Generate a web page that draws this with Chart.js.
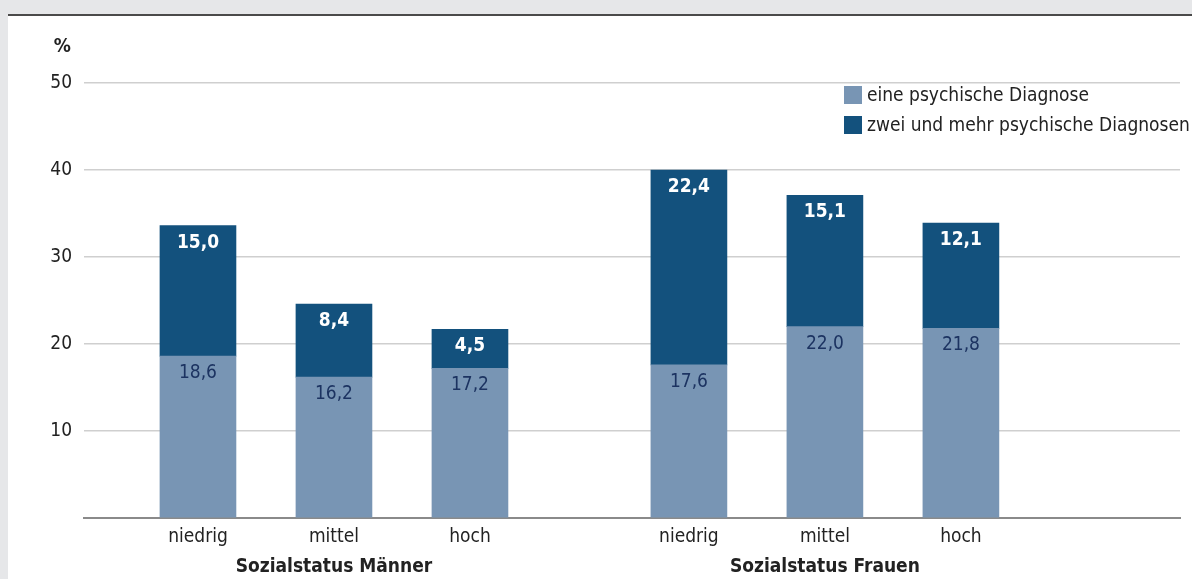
<!DOCTYPE html>
<html>
<head>
<meta charset="utf-8">
<script src="https://cdn.jsdelivr.net/npm/chart.js@4.4.1/dist/chart.umd.min.js"></script>
<style>
  html, body { margin: 0; padding: 0; background: #e6e7e9; width: 1192px; height: 579px; overflow: hidden; }
  #panel { position: absolute; left: 8px; top: 14px; width: 1184px; height: 565px; background: #ffffff; border-top: 2px solid #4a4a4a; box-sizing: border-box; }
  #c { position: absolute; left: 0; top: 0; }
</style>
</head>
<body>
<div id="panel"></div>
<canvas id="c" width="1192" height="579"></canvas>
<script>
// ---- data ----
const categories = ['niedrig', 'mittel', 'hoch'];
const groups = ['Sozialstatus Männer', 'Sozialstatus Frauen'];
const seriesLabels = ['eine psychische Diagnose', 'zwei und mehr psychische Diagnosen'];
const eineDiagnose = [18.6, 16.2, 17.2, 17.6, 22.0, 21.8];
const zweiUndMehr = [15.0, 8.4, 4.5, 22.4, 15.1, 12.1];
const yTickValues = [10, 20, 30, 40, 50];

// ---- layout helpers ----
const GROUP_GAP = 0.61;
const FONT = "'DejaVu Sans Condensed', 'Liberation Sans Narrow', 'DejaVu Sans', sans-serif";
const FS = 19;
const positionOf = i => 1 + (i % categories.length) + Math.floor(i / categories.length) * (categories.length + GROUP_GAP);
const positions = eineDiagnose.map((_, i) => positionOf(i));
const toPoints = vals => vals.map((v, i) => ({ x: positions[i], y: v }));
const fmt = v => v.toFixed(1).replace('.', ',');

const colors = ['#7895b4', '#13517d'];

const overlay = {
  id: 'overlay',
  afterDatasetsDraw(chart) {
    const ctx = chart.ctx;
    ctx.save();
    ctx.textAlign = 'center';
    ctx.textBaseline = 'middle';
    chart.data.datasets.forEach((ds, di) => {
      const meta = chart.getDatasetMeta(di);
      meta.data.forEach((el, i) => {
        const v = ds.data[i].y;
        ctx.font = (di === 1 ? 'bold ' : '') + FS + 'px ' + FONT;
        ctx.fillStyle = di === 1 ? '#ffffff' : '#1c3361';
        ctx.fillText(fmt(v), el.x, el.y + 17);
      });
    });
    ctx.restore();
  },
  afterDraw(chart) {
    const ctx = chart.ctx;
    const xs = chart.scales.x;
    ctx.save();
    // unit label
    ctx.font = 'bold ' + FS + 'px ' + FONT;
    ctx.fillStyle = '#222222';
    ctx.textAlign = 'right';
    ctx.textBaseline = 'middle';
    ctx.fillText('%', 71, 47);
    // group labels
    ctx.textAlign = 'center';
    groups.forEach((g, gi) => {
      const mid = positions[gi * categories.length + 1];
      ctx.fillText(g, xs.getPixelForValue(mid), 567);
    });
    // legend
    ctx.font = FS + 'px ' + FONT;
    ctx.textAlign = 'left';
    chart.data.datasets.forEach((ds, di) => {
      const y = 95 + di * 30;
      ctx.fillStyle = ds.backgroundColor;
      ctx.fillRect(844, y - 9, 18, 18);
      ctx.fillStyle = '#222222';
      ctx.fillText(ds.label, 867, y + 1);
    });
    ctx.restore();
  }
};

new Chart(document.getElementById('c'), {
  type: 'bar',
  data: {
    datasets: [
      { label: seriesLabels[0], data: toPoints(eineDiagnose), backgroundColor: colors[0], barThickness: 76 },
      { label: seriesLabels[1], data: toPoints(zweiUndMehr), backgroundColor: colors[1], barThickness: 76 }
    ]
  },
  options: {
    responsive: false,
    animation: false,
    devicePixelRatio: 1,
    layout: { padding: { top: 83, right: 12, left: 0, bottom: 0 } },
    plugins: { legend: { display: false }, tooltip: { enabled: false } },
    scales: {
      x: {
        type: 'linear',
        stacked: true,
        offset: false,
        min: 0.162,
        max: 8.221,
        afterBuildTicks: s => { s.ticks = positions.map(v => ({ value: v })); },
        afterFit: s => { s.height = 61; },
        grid: { display: true, offset: false, drawOnChartArea: false, drawTicks: false, color: 'rgba(0,0,0,0)' },
        border: { display: true, color: '#8a8a8a', width: 2 },
        ticks: {
          autoSkip: false, maxRotation: 0, padding: 8, color: '#222222',
          font: { family: FONT, size: FS },
          callback: (v, i) => categories[i % categories.length]
        }
      },
      y: {
        stacked: true,
        min: 0,
        max: 50,
        afterBuildTicks: s => { s.ticks = [0].concat(yTickValues).map(v => ({ value: v })); },
        afterFit: s => { s.width = 84; },
        grid: {
          drawTicks: false,
          lineWidth: 1.5,
          color: c => (c.tick && c.tick.value === 0) ? 'rgba(0,0,0,0)' : '#cfcfcf'
        },
        border: { display: false },
        ticks: {
          padding: 12, color: '#222222',
          font: { family: FONT, size: FS },
          callback: v => v === 0 ? '' : String(v)
        }
      }
    }
  },
  plugins: [overlay]
});
</script>
</body>
</html>
